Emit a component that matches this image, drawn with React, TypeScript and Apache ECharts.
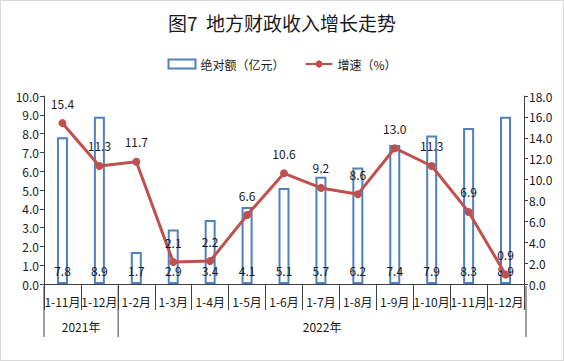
import React, { useEffect, useRef } from "react";
import * as echarts from "echarts";

const categories = ["1-11月", "1-12月", "1-2月", "1-3月", "1-4月", "1-5月", "1-6月", "1-7月", "1-8月", "1-9月", "1-10月", "1-11月", "1-12月"];
const amounts = [7.8, 8.9, 1.7, 2.9, 3.4, 4.1, 5.1, 5.7, 6.2, 7.4, 7.9, 8.3, 8.9];
const growth = [15.4, 11.3, 11.7, 2.1, 2.2, 6.6, 10.6, 9.2, 8.6, 13.0, 11.3, 6.9, 0.9];
const years = [
  { label: "2021年", from: 0, to: 2 },
  { label: "2022年", from: 2, to: 13 },
];

const W = 564;
const H = 361;
const GL = 43;
const GR = 39;
const GT = 95;
const GB = 76;
const FONT = "'Noto Sans CJK SC', 'Noto Sans', sans-serif";
const TXT = "#1a1a1a";

export default function App() {
  const ref = useRef<HTMLDivElement>(null);
  useEffect(() => {
    document.body.style.margin = "0";
    const chart = echarts.init(ref.current!, null, { renderer: "svg" });
    const plotW = W - GL - GR;
    const cw = plotW / categories.length;
    const axisY = H - GB;
    const graphics: any[] = [];
    const bounds = new Set<number>();
    years.forEach((y) => {
      bounds.add(y.from);
      bounds.add(y.to);
      graphics.push({
        type: "text",
        x: GL + ((y.from + y.to) / 2) * cw,
        y: axisY + 40,
        style: { text: y.label, fill: TXT, font: `12px ${FONT}`, textAlign: "center", textVerticalAlign: "middle" },
      });
    });
    bounds.forEach((b) => {
      graphics.push({
        type: "line",
        shape: { x1: GL + b * cw, y1: axisY, x2: GL + b * cw, y2: axisY + 51 },
        style: { stroke: "#404040", lineWidth: 1 },
      });
    });
    chart.setOption({
      animation: false,
      title: {
        text: "图7  地方财政收入增长走势",
        left: "center",
        top: 7,
        textStyle: { fontFamily: FONT, fontSize: 19, fontWeight: "normal", color: TXT },
      },
      legend: {
        top: 52,
        left: "center",
        itemGap: 20,
        itemWidth: 27,
        itemHeight: 9,
        textStyle: { fontFamily: FONT, fontSize: 12, color: TXT },
        data: [
          { name: "绝对额（亿元）", icon: "rect" },
          { name: "增速（%）" },
        ],
      },
      grid: { left: GL, right: GR, top: GT, bottom: GB },
      xAxis: {
        type: "category",
        data: categories,
        boundaryGap: true,
        axisLine: { lineStyle: { color: "#404040" } },
        axisTick: { show: true, length: 26, interval: 0, alignWithLabel: false, lineStyle: { color: "#404040" } },
        axisLabel: { interval: 0, margin: 11, fontFamily: FONT, fontSize: 12, color: TXT },
      },
      yAxis: [
        {
          type: "value",
          min: 0,
          max: 10,
          interval: 1,
          axisLine: { show: true, lineStyle: { color: "#404040" } },
          axisTick: { show: true, length: 4, lineStyle: { color: "#404040" } },
          splitLine: { show: false },
          axisLabel: { formatter: (v: number) => v.toFixed(1), fontFamily: FONT, fontSize: 12, color: TXT, margin: 5 },
        },
        {
          type: "value",
          min: 0,
          max: 18,
          interval: 2,
          position: "right",
          axisLine: { show: true, lineStyle: { color: "#404040" } },
          axisTick: { show: true, length: 4, lineStyle: { color: "#404040" } },
          splitLine: { show: false },
          axisLabel: { formatter: (v: number) => v.toFixed(1), fontFamily: FONT, fontSize: 12, color: TXT, margin: 5 },
        },
      ],
      series: [
        {
          name: "绝对额（亿元）",
          type: "bar",
          yAxisIndex: 0,
          data: amounts,
          barWidth: 11,
          itemStyle: { color: "#ffffff", borderColor: "#4f81bd", borderWidth: 2 },
          label: {
            show: true,
            position: "insideBottom",
            distance: 8,
            formatter: (p: any) => Number(p.value).toFixed(1),
            fontFamily: FONT,
            fontSize: 12,
            color: TXT,
          },
        },
        {
          name: "增速（%）",
          type: "line",
          yAxisIndex: 1,
          data: growth,
          symbol: "circle",
          symbolSize: 8,
          lineStyle: { color: "#c0504d", width: 3 },
          itemStyle: { color: "#c0504d" },
          label: {
            show: true,
            position: "top",
            distance: 10,
            formatter: (p: any) => Number(p.value).toFixed(1),
            fontFamily: FONT,
            fontSize: 12,
            color: TXT,
          },
        },
      ],
      graphic: graphics,
    });
    return () => chart.dispose();
  }, []);
  return (
    <div style={{ width: W, height: H, boxSizing: "border-box", border: "1px solid #d9d9d9", background: "#fff" }}>
      <div ref={ref} style={{ width: W - 2, height: H - 2 }} />
    </div>
  );
}
